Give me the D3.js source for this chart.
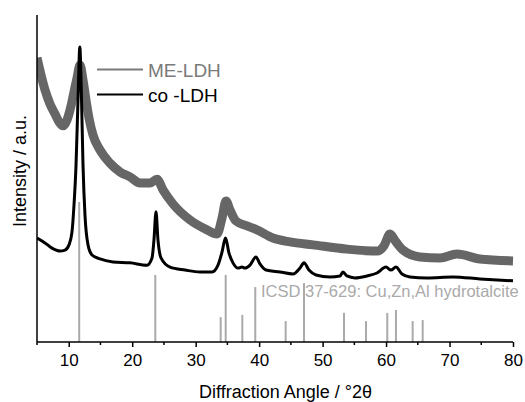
<!DOCTYPE html>
<html>
<head>
<meta charset="utf-8">
<script src="https://cdn.jsdelivr.net/npm/d3@7.9.0/dist/d3.min.js"></script>
<style>
  body { margin: 0; background: #fff; }
  text { font-family: "Liberation Sans", Arial, sans-serif; }
</style>
</head>
<body>
<svg id="chart" width="525" height="402"></svg>
<script>
// ME-LDH pattern (2theta in degrees, intensity in a.u.)
const meAngle = [5.0, 5.63, 6.26, 7.05, 7.84, 8.47, 9.10, 9.73, 10.36, 10.83, 11.30, 11.78, 12.25, 12.72,
  13.19, 13.82, 14.93, 16.50, 18.08, 19.65, 21.23, 22.80, 23.91, 24.85, 26.43, 29.11, 31.78, 33.36,
  34.15, 34.78, 35.41, 36.35, 38.09, 39.66, 42.18, 44.86, 48.49, 53.84, 58.57, 59.67, 60.62, 61.56,
  62.67, 65.34, 68.50, 71.17, 74.80, 80.0];
const meIntensity = [86.9, 81.7, 77.1, 72.8, 69.7, 67.3, 66.1, 67.9, 72.2, 76.5, 80.7, 84.7, 80.1, 74.0,
  68.5, 63.3, 58.7, 54.7, 52.0, 50.5, 48.6, 48.6, 49.8, 46.5, 42.2, 37.3, 34.3, 33.0,
  37.9, 43.1, 40.4, 37.0, 35.5, 34.3, 31.8, 30.6, 29.7, 28.4, 27.8, 29.4, 33.0, 30.6,
  28.1, 26.0, 25.7, 26.9, 25.4, 24.8];

// co-LDH pattern
const coAngle = [5.0, 6.26, 7.36, 8.62, 9.41, 10.04, 10.51, 10.83, 11.15, 11.46, 11.75, 11.98, 12.25, 12.56,
  13.04, 13.67, 14.93, 16.97, 19.65, 22.33, 23.12, 23.43, 23.75, 24.06, 24.54, 25.96, 28.32, 30.68,
  32.57, 33.52, 34.15, 34.70, 35.25, 35.88, 36.67, 37.30, 37.77, 38.56, 39.50, 40.13, 41.08, 43.29,
  45.33, 46.44, 47.07, 47.85, 48.96, 51.16, 52.74, 53.21, 53.84, 55.10, 56.99, 58.57, 59.98, 60.77,
  61.56, 62.51, 63.77, 66.45, 70.54, 74.80, 80.0];
const coIntensity = [31.8, 30.3, 28.7, 27.8, 28.1, 29.7, 33.6, 41.9, 54.1, 74.0, 90.2, 77.1, 54.1, 38.8,
  29.7, 26.6, 25.4, 24.5, 24.2, 23.5, 25.7, 31.2, 39.8, 31.2, 25.7, 22.9, 22.0, 21.4,
  21.4, 23.5, 27.5, 31.8, 27.2, 24.2, 22.6, 22.9, 22.6, 23.5, 26.0, 23.9, 22.0, 21.4,
  20.8, 22.6, 24.2, 22.0, 20.5, 19.9, 20.2, 21.4, 20.2, 19.6, 20.2, 21.1, 22.9, 22.0,
  22.9, 20.8, 19.9, 19.6, 19.9, 19.3, 18.7];

// ICSD 37-629 reference reflections
const refAngle = [11.65, 23.64, 33.94, 34.73, 37.35, 39.39, 44.18, 47.07, 53.37, 56.84, 60.19, 61.56, 64.19, 65.77];
const refIntensity = [42.8, 20.5, 7.6, 20.5, 8.3, 16.8, 6.4, 18.0, 8.9, 6.4, 8.9, 9.8, 6.4, 6.7];

const xTicks = [10, 20, 30, 40, 50, 60, 70, 80];
const xMinorTicks = [5, 15, 25, 35, 45, 55, 65, 75];

const seriesNames = ["ME-LDH", "co -LDH"];
const seriesColors = ["#666666", "#000000"];
const legendColors = ["#7a7a7a", "#000000"];

const svg = d3.select("#chart");
const margin = { left: 37, right: 12, top: 15, bottom: 60 };
const W = 525, H = 402;

const x = d3.scaleLinear().domain([5, 80]).range([margin.left, W - margin.right]);
const y = d3.scaleLinear().domain([0, 100]).range([H - margin.bottom, margin.top]);

// clip so thick strokes stay inside plot box
svg.append("clipPath").attr("id", "plot")
  .append("rect")
  .attr("x", margin.left).attr("y", 0)
  .attr("width", W - margin.right - margin.left + 1).attr("height", H - margin.bottom);

const line = d3.line()
  .x(d => x(d[0]))
  .y(d => y(d[1]))
  .curve(d3.curveMonotoneX);

const meData = d3.zip(meAngle, meIntensity);
const coData = d3.zip(coAngle, coIntensity);

const plot = svg.append("g").attr("clip-path", "url(#plot)");

plot.append("path")
  .datum(meData)
  .attr("d", line)
  .attr("fill", "none")
  .attr("stroke", seriesColors[0])
  .attr("stroke-width", 9)
  .attr("stroke-linejoin", "round");

// reference sticks
plot.selectAll("line.ref")
  .data(d3.zip(refAngle, refIntensity))
  .join("line")
  .attr("class", "ref")
  .attr("x1", d => x(d[0])).attr("x2", d => x(d[0]))
  .attr("y1", y(0)).attr("y2", d => y(d[1]))
  .attr("stroke", "#aaaaaa")
  .attr("stroke-width", 2);

plot.append("path")
  .datum(coData)
  .attr("d", line)
  .attr("fill", "none")
  .attr("stroke", seriesColors[1])
  .attr("stroke-width", 3)
  .attr("stroke-linejoin", "round");

// x axis
const xAxis = svg.append("g")
  .attr("transform", `translate(0,${y(0)})`)
  .call(d3.axisBottom(x).tickValues(xTicks).tickSize(5).tickPadding(7).tickFormat(d3.format("d")));
xAxis.select(".domain").attr("stroke-width", 1.5).attr("d", `M${x(5)},0H${x(80)}`);
xAxis.selectAll(".tick line").attr("stroke-width", 1.5);
xAxis.selectAll(".tick text").attr("font-size", 17).attr("fill", "#000")
  .attr("font-family", "'Liberation Sans', Arial, sans-serif");

svg.append("g")
  .attr("transform", `translate(0,${y(0)})`)
  .selectAll("line")
  .data(xMinorTicks)
  .join("line")
  .attr("x1", d => x(d)).attr("x2", d => x(d))
  .attr("y1", 0).attr("y2", 3)
  .attr("stroke", "#000").attr("stroke-width", 1.5);

// y axis (plain line, no ticks)
svg.append("line")
  .attr("x1", x(5)).attr("x2", x(5))
  .attr("y1", margin.top).attr("y2", y(0))
  .attr("stroke", "#000").attr("stroke-width", 1.5);

svg.append("text")
  .attr("x", 285.5).attr("y", 398)
  .attr("text-anchor", "middle")
  .attr("font-size", 18)
  .text("Diffraction Angle / °2θ");

svg.append("text")
  .attr("transform", "translate(26,171) rotate(-90)")
  .attr("text-anchor", "middle")
  .attr("font-size", 18)
  .text("Intensity / a.u.");

// reference label
svg.append("text")
  .attr("x", 261).attr("y", 297)
  .attr("font-size", 16.5)
  .attr("fill", "#aaaaaa")
  .text("ICSD 37-629: Cu,Zn,Al hydrotalcite");

// legend
const legend = svg.append("g");
seriesNames.forEach((name, i) => {
  const ly = 69.5 + i * 25;
  legend.append("line")
    .attr("x1", 97).attr("x2", 143)
    .attr("y1", ly).attr("y2", ly)
    .attr("stroke", legendColors[i])
    .attr("stroke-width", 2);
  legend.append("text")
    .attr("x", 148).attr("y", ly + 7)
    .attr("font-size", 19)
    .attr("fill", legendColors[i])
    .text(name);
});
</script>
</body>
</html>
